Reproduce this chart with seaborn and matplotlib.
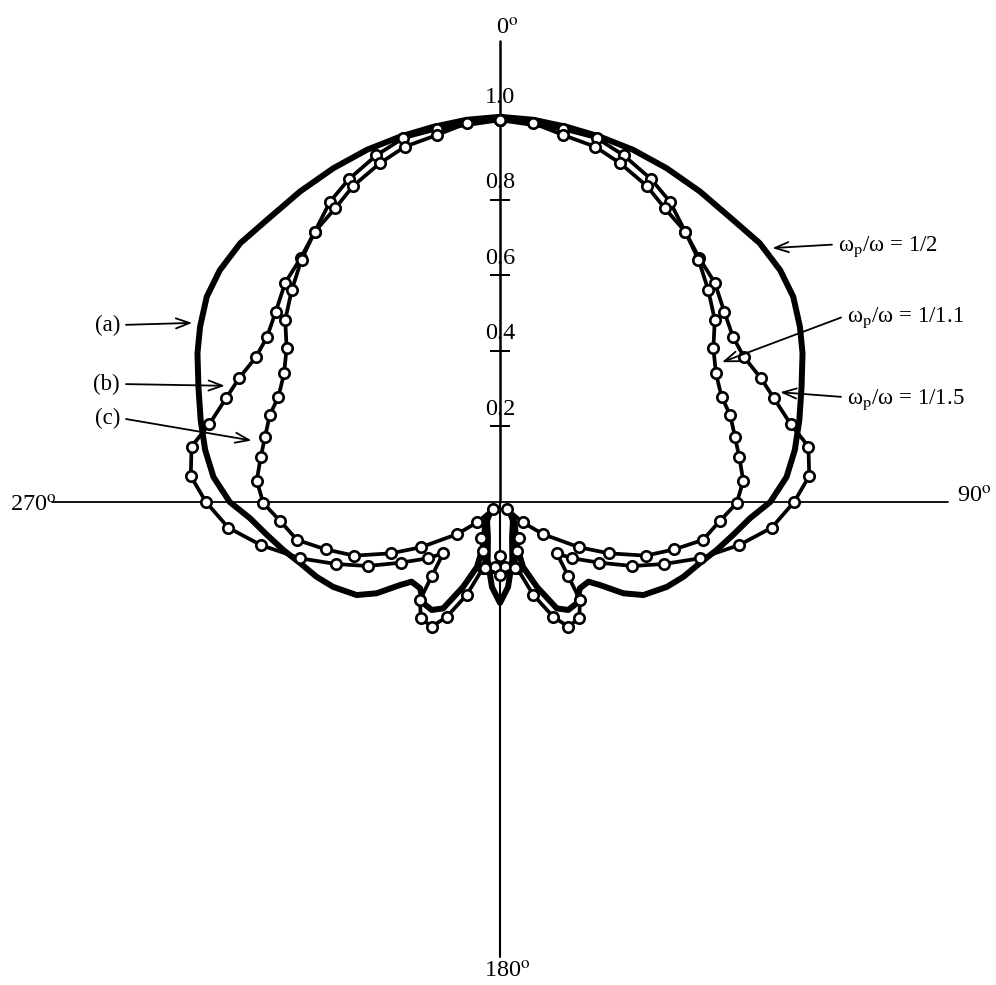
import numpy as np
import pandas as pd
import matplotlib
matplotlib.use("Agg")
import matplotlib.pyplot as plt
import seaborn as sns

# ---------------------------------------------------------------
# pattern data, right half only (degrees clockwise from 0 at top);
# all three patterns are symmetric about the 0-180 axis
# ---------------------------------------------------------------

# (a)  wp/w = 1/2   (solid line)
theta_a = [0, 5.0, 10.1, 15.3, 20.7, 26.5, 32.8, 39.6, 45.1, 50.4, 55, 59.7,
           63.8, 69.1, 74.7, 80, 85, 90, 93.7, 98, 102.5, 107, 112.2, 117,
           123, 126.5, 129.7, 132, 137.2, 142.9, 147.7, 151.9, 156.5, 160.5,
           159, 149, 139, 161, 168, 174.6, 180]
r_a = [1.019, 1.015, 1.008, 1.002, 0.996, 0.987, 0.977, 0.968, 0.97, 0.962,
       0.947, 0.919, 0.892, 0.854, 0.821, 0.792, 0.761, 0.715, 0.663, 0.623,
       0.587, 0.553, 0.524, 0.495, 0.452, 0.406, 0.344, 0.315, 0.311, 0.336,
       0.338, 0.319, 0.245, 0.182, 0.127, 0.077, 0.053, 0.098, 0.157, 0.226,
       0.267]

# (b)  wp/w = 1/1.5  (circles)
theta_b = [0, 9.6, 14.9, 19.6, 25.1, 29.5, 34.4, 39.3, 44.4, 49.7, 54.8, 59.4,
           64.6, 69.3, 75, 79.8, 85.2, 90, 95.4, 100.2, 105.7, 110.7, 115.8,
           121.5, 128.1, 132.1, 137.3, 140.8, 145.7, 151.3, 155.1, 160.3,
           165.6, 175.6, 180]
r_b = [1.01, 1.0, 0.996, 0.974, 0.943, 0.913, 0.867, 0.833, 0.812, 0.778,
       0.755, 0.751, 0.764, 0.775, 0.796, 0.829, 0.821, 0.778, 0.722, 0.643,
       0.55, 0.464, 0.389, 0.307, 0.241, 0.202, 0.266, 0.335, 0.372, 0.376,
       0.335, 0.261, 0.18, 0.172, 0.143]

# (c)  wp/w = 1/1.1  (circles)
theta_c = [0, 5.0, 9.8, 15.0, 19.5, 24.9, 29.3, 34.4, 39.3, 44.5, 49.7, 54.2,
           59.2, 64.6, 69.3, 74.6, 79.4, 85.0, 90.3, 94.9, 100.6, 105.2, 110.2,
           115.2, 119.8, 126.7, 131.8, 134, 153, 161, 167, 180]
r_c = [1.01, 1.006, 0.985, 0.973, 0.951, 0.922, 0.891, 0.867, 0.829, 0.786,
       0.745, 0.696, 0.665, 0.649, 0.651, 0.645, 0.644, 0.646, 0.626, 0.584,
       0.546, 0.478, 0.411, 0.319, 0.241, 0.143, 0.081, 0.027, 0.108, 0.136,
       0.18, 0.193]

radial_ticks = [0.2, 0.4, 0.6, 0.8]
radial_labels = ["0.2", "0.4", "0.6", "0.8"]


def mirror(theta, r):
    th = np.asarray(theta, float)
    rr = np.asarray(r, float)
    th_full = np.concatenate([th, 360 - th[::-1][1:]])
    r_full = np.concatenate([rr, rr[::-1][1:]])
    return pd.DataFrame({"theta": np.deg2rad(th_full), "r": r_full})


# =============================
# FIGURE / AXES
# =============================
sns.set_style("white")
plt.rcParams["font.family"] = ["Liberation Serif", "DejaVu Serif"]
plt.rcParams["mathtext.fontset"] = "stix"
plt.rcParams["text.color"] = "black"

W, H = 996, 985
CX, CY = 500, 502      # pole, pixels from top-left
RPX = 378              # pixels per unit radius
RMAX = 1.25
rad = RMAX * RPX

fig = plt.figure(figsize=(W / 100, H / 100), dpi=100)
ax = fig.add_axes([(CX - rad) / W, (H - CY - rad) / H, 2 * rad / W, 2 * rad / H],
                  projection="polar")
ax.set_theta_zero_location("N")
ax.set_theta_direction(-1)

# crossed axes
ax.plot([0, 0], [0, 1.22], color="black", lw=1.8)
ax.plot([np.pi, np.pi], [0, 1.205], color="black", lw=1.5)
ax.plot([np.pi / 2] * 2, [0, 1.185], color="black", lw=1.3)
ax.plot([3 * np.pi / 2] * 2, [0, 1.185], color="black", lw=1.3)

# radial ticks on the 0 deg axis
ax.plot(np.zeros(len(radial_ticks)), radial_ticks, ls="none", marker="_",
        ms=14, mew=1.4, color="black")
for v, lab in zip(radial_ticks, radial_labels):
    ax.text(0, v + 0.045, lab, ha="center", va="center", fontsize=17.5)
ax.text(0, 1.07, "1.0", ha="center", va="center", fontsize=17.5)

# curves
sns.lineplot(data=mirror(theta_a, r_a), x="theta", y="r", sort=False,
             estimator=None, color="black", lw=4.3, ax=ax)
marker_kw = dict(marker="o", markersize=7.5, markerfacecolor="white",
                 markeredgecolor="black", markeredgewidth=1.9)
sns.lineplot(data=mirror(theta_b, r_b), x="theta", y="r", sort=False,
             estimator=None, color="black", lw=2.7, ax=ax, **marker_kw)
sns.lineplot(data=mirror(theta_c, r_c), x="theta", y="r", sort=False,
             estimator=None, color="black", lw=2.7, ax=ax, **marker_kw)

ax.set_ylim(0, RMAX)
ax.axis("off")


def fpt(x, y):
    return (x / W, 1 - y / H)


# angle labels
deg = r"$^{\rm o}$"
fig.text(*fpt(496, 35), "0" + deg, ha="left", va="baseline", fontsize=17.5)
fig.text(*fpt(10, 512), "270" + deg, ha="left", va="baseline", fontsize=17.5)
fig.text(*fpt(957, 503), "90" + deg, ha="left", va="baseline", fontsize=17.5)
fig.text(*fpt(484, 978), "180" + deg, ha="left", va="baseline", fontsize=17.5)

# curve labels with arrows
arr = "->, head_length=0.6, head_width=0.22"


def label(txt, tip, pos, ha, va, relpos):
    ax.annotate(txt, xy=(np.deg2rad(tip[0]), tip[1]), xycoords="data",
                xytext=fpt(*pos), textcoords="figure fraction",
                ha=ha, va=va, fontsize=16.5,
                arrowprops=dict(arrowstyle=arr, color="black", lw=1.3,
                                shrinkA=2, shrinkB=0, relpos=relpos))


label("(a)", (300.2, 0.942), (120, 325), "right", "center", (1, 0.5))
label("(b)", (292.9, 0.790), (120, 384), "right", "center", (1, 0.5))
label("(c)", (283.9, 0.677), (120, 418), "right", "center", (1, 0.5))

wl = "ω$_{\\rm p}$/ω = "
label(wl + "1/2", (47.0, 0.985), (838, 251), "left", "baseline", (0, 0.6))
label(wl + "1/1.1", (57.8, 0.694), (847, 322), "left", "baseline", (0, 0.6))
label(wl + "1/1.5", (68.6, 0.796), (847, 404), "left", "baseline", (0, 0.6))

fig.savefig("out.png", dpi=100)
